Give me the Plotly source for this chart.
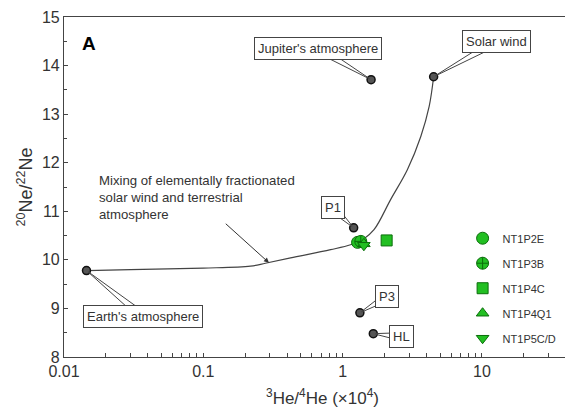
import math
import plotly.graph_objects as go

# Reference end-members / samples (3He/4He x1e4, 20Ne/22Ne)
ref_names = ["Earth's atmosphere", "Jupiter's atmosphere", "Solar wind", "P1", "P3", "HL"]
ref_x = [0.0145, 1.60, 4.50, 1.20, 1.33, 1.66]
ref_y = [9.78, 13.71, 13.77, 10.66, 8.91, 8.48]

# Mixing curve
mix_x = [0.0145, 0.03, 0.1, 0.218, 0.279, 0.423, 0.82, 1.14, 1.40, 1.68, 2.21, 2.92, 3.64, 4.18, 4.50]
mix_y = [9.78, 9.80, 9.83, 9.87, 9.93, 10.04, 10.21, 10.31, 10.42, 10.62, 11.24, 11.86, 12.54, 13.16, 13.77]

# Samples
samp_names = ["NT1P2E", "NT1P3B", "NT1P4C", "NT1P4Q1", "NT1P5C/D"]
samp_x = [1.28, 1.35, 2.07, 1.42, 1.42]
samp_y = [10.36, 10.38, 10.40, 10.33, 10.30]
samp_symbols = ["circle", "circle-cross", "square", "triangle-up", "triangle-down"]

GREEN = "#22bf22"
GREEN_LINE = "#0b6e0b"
TXT = "#333333"

fig = go.Figure()

fig.add_trace(go.Scatter(x=mix_x, y=mix_y, mode="lines", line=dict(color="#444444", width=1.2, shape="spline"),
                         showlegend=False, hoverinfo="skip"))

fig.add_trace(go.Scatter(x=ref_x, y=ref_y, mode="markers",
                         marker=dict(symbol="circle", size=8, color="#555555", line=dict(color="#111111", width=1.5)),
                         showlegend=False))

for i, nm in enumerate(samp_names):
    fig.add_trace(go.Scatter(x=[samp_x[i]], y=[samp_y[i]], mode="markers", name=nm, legendgroup=nm,
                             marker=dict(symbol=samp_symbols[i], size=12 if i in (0, 1) else 11, color=GREEN,
                                         line=dict(color=GREEN_LINE, width=1))))

# Callout boxes (balloon style: two converging lines + bordered box)
offsets = {"Earth's atmosphere": (57, 46), "Jupiter's atmosphere": (-53, -31), "Solar wind": (63, -35),
           "P1": (-21, -20), "P3": (27, -16), "HL": (28, 3)}
for nm, xv, yv in zip(ref_names, ref_x, ref_y):
    ax, ay = offsets[nm]
    L = math.hypot(ax, ay)
    px, py = -ay / L * 4, ax / L * 4
    for s in (1, -1):
        fig.add_annotation(x=math.log10(xv), y=yv, xref="x", yref="y", text="", showarrow=True,
                           ax=ax + s * px, ay=ay + s * py, arrowhead=0, arrowwidth=1, arrowcolor="#444444",
                           standoff=2)
for nm, xv, yv in zip(ref_names, ref_x, ref_y):
    ax, ay = offsets[nm]
    fig.add_annotation(x=math.log10(xv), y=yv, xref="x", yref="y", text=nm, showarrow=True, ax=ax, ay=ay,
                       arrowhead=0, arrowwidth=1, arrowcolor="rgba(0,0,0,0)", standoff=2,
                       bordercolor="#444444", borderwidth=1, borderpad=3, bgcolor="white",
                       font=dict(family="Arial", size=13, color=TXT))

fig.add_annotation(x=math.log10(0.296), y=9.94, xref="x", yref="y",
                   text="Mixing of elementally fractionated<br>solar wind and terrestrial<br>atmosphere",
                   align="left", showarrow=True, ax=-72, ay=-65, arrowhead=2, arrowsize=1, arrowwidth=1,
                   arrowcolor="#333333", font=dict(family="Arial", size=13.2, color=TXT))

fig.add_annotation(x=0.03, y=0.96, xref="paper", yref="paper", text="<b>A</b>", showarrow=False,
                   font=dict(family="Arial", size=19, color="black"))

fig.update_layout(
    width=573, height=404,
    margin=dict(l=56, r=0, t=9, b=55),
    paper_bgcolor="white", plot_bgcolor="white",
    font=dict(family="Arial", color=TXT),
    showlegend=True,
    legend=dict(x=0.771, y=0.392, xanchor="left", yanchor="top", bgcolor="rgba(0,0,0,0)",
                font=dict(family="Arial", size=11, color=TXT), tracegroupgap=6, traceorder="grouped"),
    xaxis=dict(type="log", range=[-2, 1.711], dtick=1, automargin=False,
               ticks="inside", ticklen=4, tickcolor="#444", showline=True, linecolor="#444", linewidth=1.2,
               mirror=True, showgrid=False, zeroline=False, tickfont=dict(size=16, color=TXT),
               minor=dict(ticks="inside", ticklen=4, tickcolor="#444", dtick="D1", showgrid=False),
               title=dict(text="<sup>3</sup>He/<sup>4</sup>He (×10<sup>4</sup>)", font=dict(size=17, color=TXT),
                          standoff=12)),
    yaxis=dict(range=[8, 15], dtick=1, automargin=False, ticks="inside", ticklen=4, tickcolor="#444", showline=True,
               linecolor="#444", linewidth=1.2, showgrid=False, zeroline=False, tickfont=dict(size=16, color=TXT),
               minor=dict(ticks="inside", ticklen=3, tickcolor="#444", dtick=0.5, showgrid=False),
               title=dict(text="<sup>20</sup>Ne/<sup>22</sup>Ne", font=dict(size=18, color=TXT), standoff=4)),
)

fig.write_html("out.html")
